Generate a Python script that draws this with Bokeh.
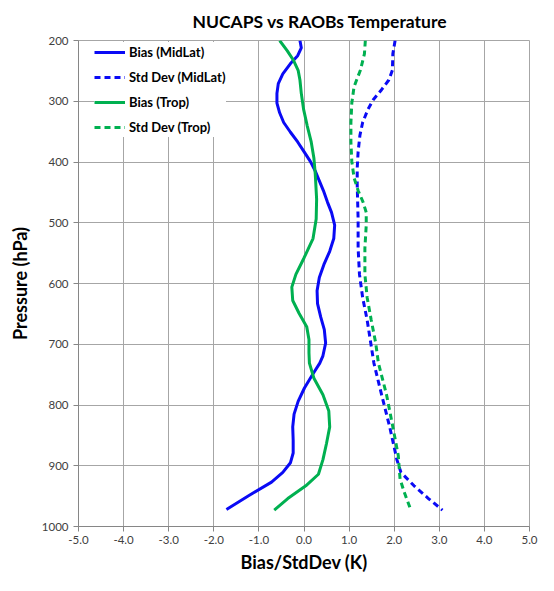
from bokeh.plotting import figure
from bokeh.models import Range1d, FixedTicker, PrintfTickFormatter, Legend, LegendItem
from bokeh.embed import file_html
from bokeh.resources import INLINE

# ---- data (pressure in hPa, value in K) ----
bias_mid_p = [200, 212, 225, 238, 255, 271, 287, 303, 319, 335, 351, 367, 383, 399, 415, 431,
              447, 466, 483, 504, 526, 547, 569, 590, 612, 633, 655, 676, 698, 719, 731, 751,
              772, 794, 815, 836, 858, 879, 895, 911, 927, 949, 972]
bias_mid_x = [-0.09, -0.06, -0.14, -0.30, -0.47, -0.57, -0.60, -0.60, -0.54, -0.45, -0.30,
              -0.14, 0.00, 0.14, 0.25, 0.34, 0.43, 0.52, 0.61, 0.68, 0.66, 0.57, 0.44, 0.34,
              0.29, 0.30, 0.37, 0.45, 0.48, 0.42, 0.35, 0.18, 0.01, -0.13, -0.22, -0.25,
              -0.24, -0.24, -0.30, -0.47, -0.72, -1.22, -1.72]

std_mid_p = [200, 222, 249, 265, 281, 297, 313, 335, 356, 383, 410, 437, 466, 494, 542, 585,
             623, 660, 698, 731, 783, 836, 890, 911, 933, 954, 973]
std_mid_x = [2.02, 1.97, 1.96, 1.88, 1.72, 1.54, 1.42, 1.30, 1.24, 1.20, 1.18, 1.18, 1.19,
             1.20, 1.20, 1.23, 1.30, 1.40, 1.48, 1.55, 1.72, 1.90, 2.06, 2.15, 2.44, 2.76, 3.07]

bias_trop_p = [200, 217, 233, 249, 265, 287, 313, 340, 367, 394, 420, 461, 494, 526, 558, 585,
               606, 628, 649, 671, 692, 714, 731, 756, 783, 810, 836, 863, 890, 914, 933, 954,
               973]
bias_trop_x = [-0.54, -0.37, -0.23, -0.13, -0.09, -0.06, -0.01, 0.07, 0.16, 0.22, 0.25, 0.28,
               0.27, 0.20, 0.00, -0.18, -0.27, -0.25, -0.11, 0.06, 0.11, 0.11, 0.12, 0.22,
               0.42, 0.55, 0.57, 0.50, 0.42, 0.32, 0.04, -0.36, -0.66]

std_trop_p = [200, 222, 249, 276, 303, 335, 367, 399, 426, 447, 466, 483, 504, 542, 585, 623,
              660, 698, 731, 783, 836, 883, 922, 943, 973]
std_trop_x = [1.36, 1.34, 1.25, 1.11, 1.06, 1.04, 1.04, 1.06, 1.11, 1.20, 1.31, 1.38, 1.38,
              1.35, 1.35, 1.40, 1.49, 1.59, 1.65, 1.83, 1.97, 2.09, 2.13, 2.22, 2.37]

x_ticks = [-5, -4, -3, -2, -1, 0, 1, 2, 3, 4, 5]
y_ticks = [200, 300, 400, 500, 600, 700, 800, 900, 1000]

title_text = "NUCAPS vs RAOBs Temperature"
x_label = "Bias/StdDev (K)"
y_label = "Pressure (hPa)"
series_names = ["Bias (MidLat)", "Std Dev (MidLat)", "Bias (Trop)", "Std Dev (Trop)"]

BLUE = "#0A0AF5"
GREEN = "#00B050"
FONT = "Lato"
GRID = "#A6A6A6"

W, H = 538, 575
BL, BR, BT, BB = 78, 9, 38, 49
FRAME_H = H - BT - BB
LEG_H = 4 * 20 + 3 * 5 + 2 * 4

p = figure(width=W, height=H, output_backend="svg", toolbar_location=None,
           x_range=Range1d(-5, 5), y_range=Range1d(1000, 200),
           min_border_left=BL, min_border_right=BR, min_border_top=BT, min_border_bottom=BB)

p.title.text = title_text
p.title.align = "left"
p.title.offset = 114
p.title.text_font = FONT
p.title.text_font_size = "17.5px"
p.title.text_font_style = "bold"
p.title.text_color = "#000000"
p.title.standoff = 17

for ax in (p.xaxis[0], p.yaxis[0]):
    ax.axis_line_color = "#868686"
    ax.major_tick_line_color = "#868686"
    ax.major_tick_out = 5
    ax.major_tick_in = 0
    ax.minor_tick_out = 0
    ax.minor_tick_in = 0
    ax.major_label_text_font = FONT
    ax.major_label_text_font_size = "11.5px"
    ax.major_label_text_color = "#404040"
    ax.axis_label_text_font = FONT
    ax.axis_label_text_font_size = "18px"
    ax.axis_label_text_font_style = "bold"
    ax.axis_label_text_color = "#000000"

p.xaxis.ticker = FixedTicker(ticks=x_ticks)
p.xaxis.formatter = PrintfTickFormatter(format="%.1f")
p.xaxis.axis_label = x_label
p.xaxis.major_label_standoff = 4
p.xaxis.axis_label_standoff = 4

p.yaxis.ticker = FixedTicker(ticks=y_ticks)
p.yaxis.axis_label = y_label
p.yaxis.major_label_standoff = 5
p.yaxis.axis_label_standoff = 8

p.xgrid.ticker = FixedTicker(ticks=x_ticks)
p.ygrid.ticker = FixedTicker(ticks=y_ticks)
p.grid.grid_line_color = GRID
p.grid.grid_line_width = 1
p.outline_line_color = GRID
p.background_fill_color = "white"
p.border_fill_color = "white"

r1 = p.line(bias_mid_x, bias_mid_p, line_color=BLUE, line_width=3, line_join="round")
r2 = p.line(std_mid_x, std_mid_p, line_color=BLUE, line_width=3, line_dash="6 4")
r3 = p.line(bias_trop_x, bias_trop_p, line_color=GREEN, line_width=3, line_join="round")
r4 = p.line(std_trop_x, std_trop_p, line_color=GREEN, line_width=3, line_dash="6 4")

legend = Legend(items=[LegendItem(label=series_names[0], renderers=[r1]),
                       LegendItem(label=series_names[1], renderers=[r2]),
                       LegendItem(label=series_names[2], renderers=[r3]),
                       LegendItem(label=series_names[3], renderers=[r4])],
                location=(16, FRAME_H - LEG_H + 4))
legend.margin = 0
legend.padding = 4
legend.border_line_color = None
legend.background_fill_color = "white"
legend.background_fill_alpha = 1.0
legend.label_text_font = FONT
legend.label_text_font_size = "13px"
legend.label_text_font_style = "bold"
legend.label_text_color = "#000000"
legend.glyph_width = 31
legend.glyph_height = 20
legend.label_height = 20
legend.label_standoff = 4
legend.spacing = 5
p.add_layout(legend)

open("out.html", "w").write(file_html(p, INLINE))
